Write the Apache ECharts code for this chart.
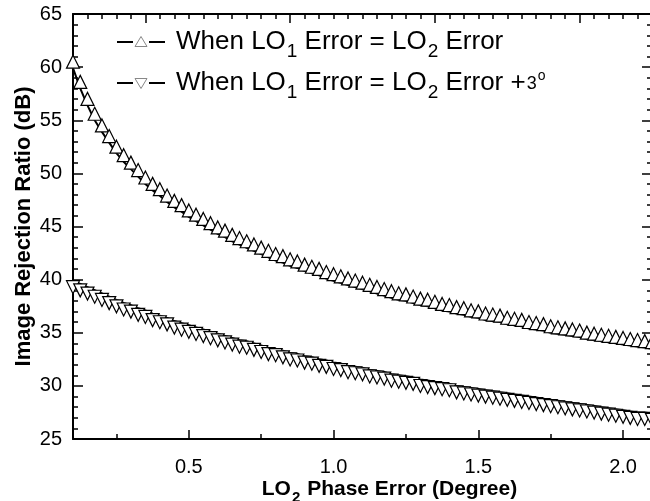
<!DOCTYPE html>
<html>
<head>
<meta charset="utf-8">
<script src="https://cdn.jsdelivr.net/npm/echarts@6/dist/echarts.min.js"></script>
<style>
  html, body { margin: 0; padding: 0; background: #fff; }
  #chart { width: 650px; height: 501px; }
</style>
</head>
<body>
<div id="chart"></div>
<script>
// LO2 phase error (degree)
const phaseError = [
  0.1, 0.125, 0.15, 0.175, 0.2, 0.225, 0.25, 0.275, 0.3, 0.325,
  0.35, 0.375, 0.4, 0.425, 0.45, 0.475, 0.5, 0.525, 0.55, 0.575,
  0.6, 0.625, 0.65, 0.675, 0.7, 0.725, 0.75, 0.775, 0.8, 0.825,
  0.85, 0.875, 0.9, 0.925, 0.95, 0.975, 1.0, 1.025, 1.05, 1.075,
  1.1, 1.125, 1.15, 1.175, 1.2, 1.225, 1.25, 1.275, 1.3, 1.325,
  1.35, 1.375, 1.4, 1.425, 1.45, 1.475, 1.5, 1.525, 1.55, 1.575,
  1.6, 1.625, 1.65, 1.675, 1.7, 1.725, 1.75, 1.775, 1.8, 1.825,
  1.85, 1.875, 1.9, 1.925, 1.95, 1.975, 2.0, 2.025, 2.05, 2.075, 2.1
];

// Image rejection ratio (dB) when LO1 error = LO2 error
const irrEqualError = [
  59.9, 58.0, 56.4, 55.0, 53.9, 52.9, 51.9, 51.1, 50.4, 49.7,
  49.0, 48.4, 47.9, 47.3, 46.8, 46.4, 45.9, 45.5, 45.1, 44.7,
  44.3, 44.0, 43.6, 43.3, 43.0, 42.7, 42.4, 42.1, 41.8, 41.6,
  41.3, 41.1, 40.8, 40.6, 40.4, 40.1, 39.9, 39.7, 39.5, 39.3,
  39.1, 38.9, 38.7, 38.5, 38.3, 38.1, 38.0, 37.8, 37.6, 37.5,
  37.3, 37.1, 37.0, 36.8, 36.7, 36.5, 36.4, 36.2, 36.1, 36.0,
  35.8, 35.7, 35.6, 35.4, 35.3, 35.2, 35.0, 34.9, 34.8, 34.7,
  34.6, 34.4, 34.3, 34.2, 34.1, 34.0, 33.9, 33.8, 33.7, 33.6, 33.5
];

// Image rejection ratio (dB) when LO1 error = LO2 error + 3 degrees
const irrOffsetError = [
  39.9, 39.6, 39.3, 39.0, 38.7, 38.4, 38.1, 37.8, 37.6, 37.3,
  37.1, 36.8, 36.6, 36.4, 36.1, 35.9, 35.7, 35.5, 35.3, 35.1,
  34.9, 34.7, 34.5, 34.3, 34.2, 34.0, 33.8, 33.6, 33.5, 33.3,
  33.1, 33.0, 32.8, 32.7, 32.5, 32.4, 32.2, 32.1, 31.9, 31.8,
  31.7, 31.5, 31.4, 31.3, 31.1, 31.0, 30.9, 30.8, 30.6, 30.5,
  30.4, 30.3, 30.2, 30.0, 29.9, 29.8, 29.7, 29.6, 29.5, 29.4,
  29.3, 29.2, 29.1, 29.0, 28.9, 28.8, 28.7, 28.6, 28.5, 28.4,
  28.3, 28.2, 28.1, 28.0, 27.9, 27.8, 27.7, 27.6, 27.5, 27.5, 27.4
];

// Tick positions
const xMajorTicks = [0.5, 1.0, 1.5, 2.0];
const xMinorTicks = [0.25, 0.75, 1.25, 1.75];
const topMajorTicks = [0.35, 0.85, 1.35, 1.85];
const topMinorTicks = [];
for (let i = 3; i <= 41; i++) topMinorTicks.push(+(i * 0.05).toFixed(2));

const FONT = 'Liberation Sans, Arial, sans-serif';
const X_MIN = 0.1, X_MAX = 2.1, Y_MIN = 25, Y_MAX = 65;
const rect = { left: 73, top: 14, right: -2, bottom: 62, containLabel: false, outerBoundsMode: 'none' };

const chart = echarts.init(document.getElementById('chart'), null, { renderer: 'canvas' });

function tickAxis(extra) {
  return Object.assign({
    type: 'value', min: X_MIN, max: X_MAX,
    splitLine: { show: false },
    axisLabel: { show: false },
    axisLine: { show: false }
  }, extra);
}

const legendRich = {
  t: { fontSize: 26, fontFamily: FONT, fill: '#000', lineHeight: 30 },
  s: { fontSize: 19, fontFamily: FONT, fill: '#000', lineHeight: 19, verticalAlign: 'top', padding: [15, 0, 0, 1] },
  n: { fontSize: 18, fontFamily: FONT, fill: '#000', lineHeight: 18, verticalAlign: 'top', padding: [7, 0, 0, 1] },
  o: { fontSize: 14, fontFamily: FONT, fill: '#000', lineHeight: 14, verticalAlign: 'top', padding: [1, 0, 0, 1] }
};

const markerStyle = { color: '#fff', borderColor: '#000', borderWidth: 1.2 };
const TRI = [13, 13];

const option = {
  animation: false,
  backgroundColor: '#fff',
  grid: [Object.assign({}, rect), Object.assign({}, rect)],
  xAxis: [
    {
      gridIndex: 0, type: 'value', position: 'bottom', min: X_MIN, max: X_MAX,
      axisLine: { lineStyle: { color: '#000', width: 2 } },
      axisTick: { inside: true, length: 9, customValues: xMajorTicks, lineStyle: { color: '#000', width: 1.5 } },
      axisLabel: {
        customValues: xMajorTicks, color: '#000', fontSize: 20, fontFamily: FONT, margin: 18,
        formatter: v => v.toFixed(1)
      },
      splitLine: { show: false },
      name: '{b|LO}{s|2}{b| Phase Error (Degree)}',
      nameLocation: 'middle', nameGap: 38, nameMoveOverlap: false,
      nameTextStyle: {
        padding: [0, 0, 0, 54],
        rich: {
          b: { fontSize: 21, fontWeight: 'bold', fontFamily: FONT, color: '#000', lineHeight: 24 },
          s: { fontSize: 15, fontWeight: 'bold', fontFamily: FONT, color: '#000', lineHeight: 15, verticalAlign: 'top', padding: [13, 1, 0, 1] }
        }
      }
    },
    {
      gridIndex: 0, type: 'value', position: 'top', min: X_MIN, max: X_MAX,
      axisLine: { lineStyle: { color: '#000', width: 2 } },
      axisTick: { inside: true, length: 9, customValues: topMajorTicks, lineStyle: { color: '#000', width: 1.5 } },
      axisLabel: { show: false },
      splitLine: { show: false }
    },
    tickAxis({
      gridIndex: 1, position: 'bottom',
      axisTick: { inside: true, length: 5, customValues: xMinorTicks, lineStyle: { color: '#000', width: 1.5 } }
    }),
    tickAxis({
      gridIndex: 1, position: 'top',
      axisTick: { inside: true, length: 5, customValues: topMinorTicks, lineStyle: { color: '#000', width: 1.5 } }
    })
  ],
  yAxis: [
    {
      gridIndex: 0, type: 'value', position: 'left', min: Y_MIN, max: Y_MAX, interval: 5,
      axisLine: { lineStyle: { color: '#000', width: 2 } },
      axisTick: { inside: true, length: 10, lineStyle: { color: '#000', width: 1.5 } },
      minorTick: { show: true, splitNumber: 5, length: 5, lineStyle: { color: '#000', width: 1.5 } },
      axisLabel: { color: '#000', fontSize: 20, fontFamily: FONT, margin: 11 },
      splitLine: { show: false },
      minorSplitLine: { show: false },
      name: 'Image Rejection Ratio (dB)',
      nameLocation: 'middle', nameGap: 38, nameMoveOverlap: false,
      nameTextStyle: { fontSize: 22, fontWeight: 'bold', fontFamily: FONT, color: '#000' }
    },
    {
      gridIndex: 0, type: 'value', position: 'right', min: Y_MIN, max: Y_MAX, interval: 5,
      axisLine: { lineStyle: { color: '#000', width: 2 } },
      axisTick: { inside: true, length: 10, lineStyle: { color: '#000', width: 1.5 } },
      minorTick: { show: true, splitNumber: 5, length: 5, lineStyle: { color: '#000', width: 1.5 } },
      axisLabel: { show: false },
      splitLine: { show: false }
    },
    { gridIndex: 1, type: 'value', min: Y_MIN, max: Y_MAX, show: false }
  ],
  series: [
    {
      name: 'equal',
      type: 'line', xAxisIndex: 0, yAxisIndex: 0,
      data: phaseError.map((x, i) => [x, irrEqualError[i]]),
      symbol: 'triangle', symbolSize: TRI, symbolOffset: [0, -6.5],
      showAllSymbol: true,
      lineStyle: { color: '#000', width: 2 },
      itemStyle: markerStyle,
      emphasis: { disabled: true },
      z: 3
    },
    {
      name: 'offset',
      type: 'line', xAxisIndex: 0, yAxisIndex: 0,
      data: phaseError.map((x, i) => [x, irrOffsetError[i]]),
      symbol: 'triangle', symbolRotate: 180, symbolSize: TRI, symbolOffset: [0, 6.5],
      showAllSymbol: true,
      lineStyle: { color: '#000', width: 2 },
      itemStyle: markerStyle,
      emphasis: { disabled: true },
      z: 3
    }
  ],
  graphic: [
    { type: 'line', shape: { x1: 117, y1: 42, x2: 133, y2: 42 }, style: { stroke: '#000', lineWidth: 2 }, z: 10 },
    { type: 'line', shape: { x1: 149, y1: 42, x2: 165, y2: 42 }, style: { stroke: '#000', lineWidth: 2 }, z: 10 },
    { type: 'polygon', shape: { points: [[141, 36.5], [135, 46.5], [147, 46.5]] }, style: { fill: '#fff', stroke: '#888', lineWidth: 1 }, z: 11 },
    {
      type: 'text', x: 176, y: 42, z: 10,
      style: {
        text: '{t|When LO}{s|1}{t| Error = LO}{s|2}{t| Error}',
        rich: legendRich, verticalAlign: 'middle', align: 'left'
      }
    },
    { type: 'line', shape: { x1: 117, y1: 83, x2: 133, y2: 83 }, style: { stroke: '#000', lineWidth: 2 }, z: 10 },
    { type: 'line', shape: { x1: 149, y1: 83, x2: 165, y2: 83 }, style: { stroke: '#000', lineWidth: 2 }, z: 10 },
    { type: 'polygon', shape: { points: [[135, 78.5], [147, 78.5], [141, 88.5]] }, style: { fill: '#fff', stroke: '#888', lineWidth: 1 }, z: 11 },
    {
      type: 'text', x: 176, y: 83, z: 10,
      style: {
        text: '{t|When LO}{s|1}{t| Error = LO}{s|2}{t| Error +}{n|3}{o|o}',
        rich: legendRich, verticalAlign: 'middle', align: 'left'
      }
    }
  ]
};

chart.setOption(option);
</script>
</body>
</html>
